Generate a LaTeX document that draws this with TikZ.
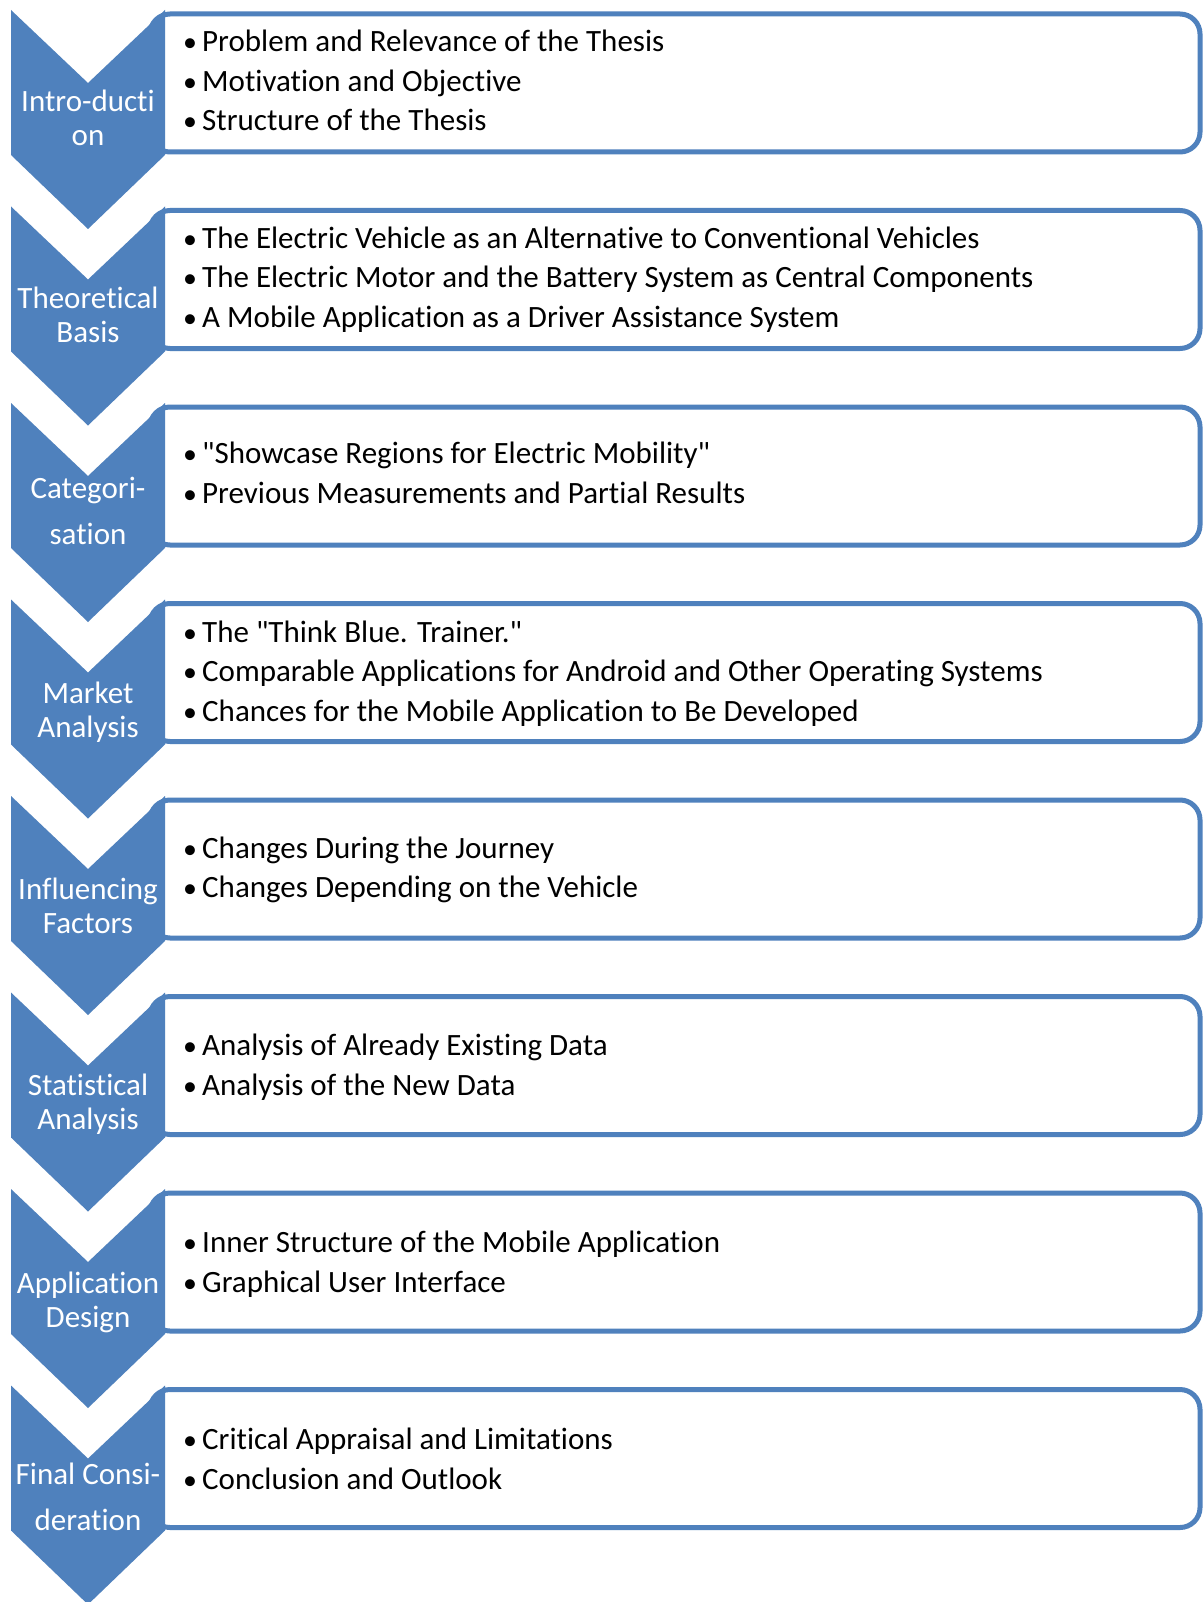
\documentclass[tikz,border=0pt]{standalone}
\usepackage{fontspec}
\setmainfont{Carlito}[Ligatures={TeXOff,CommonOff}]
\definecolor{accblue}{RGB}{79,129,189}
\newcommand\bul[1]{\makebox[18pt][l]{\hspace{-1pt}\scalebox{0.9}{\textbullet}}#1}
\begin{document}
\begin{tikzpicture}[x=1pt,y=-1pt,
  chev/.style={fill=accblue, draw=none},
  tbox/.style={draw=accblue, line width=5pt, rounded corners=20pt, fill=white},
  lbl/.style={text=white, font=\fontsize{31}{34}\selectfont, align=center, inner sep=0pt},
  lblwide/.style={lbl, font=\fontsize{31}{46}\selectfont},
  items/.style={anchor=west, align=left, font=\fontsize{31}{39.5}\selectfont, inner sep=0pt}]
\useasboundingbox (0,0) rectangle (1203,1602);
\fill[white] (0,0) rectangle (1203,1602);
\foreach \i in {0,...,7} {
  \pgfmathsetmacro\t{10+196.5*\i}
  \draw[tbox] (150,\t+4) rectangle (1200,\t+142);
  \fill[chev] (11,\t) -- (88,\t+73) -- (165,\t) -- (165,\t+145) -- (88,\t+219) -- (11,\t+145) -- cycle;
}
\node[lbl] (c1) at (88,118) {Intro-ducti\\on};
\node[lbl] (c2) at (88,314.5) {Theoretical\\Basis};
\node[lblwide] (c3) at (88,511) {Categori-\\sation};
\node[lbl] (c4) at (88,712) {Market\\Analysis};
\node[lbl] (c5) at (88,906) {Influencing\\Factors};
\node[lbl] (c6) at (88,1104.5) {Statistical\\Analysis};
\node[lbl] (c7) at (88,1302) {Application\\Design};
\node[lblwide] (c8) at (88,1497) {Final Consi-\\deration};

\node[items] (t1) at (184,80.5) {\bul{Problem and Relevance of the Thesis}\\\bul{Motivation and Objective}\\\bul{Structure of the Thesis}};
\node[items] (t2) at (184,279.5) {\bul{The Electric Vehicle as an Alternative to Conventional Vehicles}\\\bul{The Electric Motor and the Battery System as Central Components}\\\bul{A Mobile Application as a Driver Assistance System}};
\node[items] (t3) at (184,473) {\bul{"Showcase Regions for Electric Mobility"}\\\bul{Previous Measurements and Partial Results}};
\node[items] (t4) at (184,673.5) {\bul{The "Think Blue. Trainer."}\\\bul{Comparable Applications for Android and Other Operating Systems}\\\bul{Chances for the Mobile Application to Be Developed}};
\node[items] (t5) at (184,870) {\bul{Changes During the Journey}\\\bul{Changes Depending on the Vehicle}};
\node[items] (t6) at (184,1067) {\bul{Analysis of Already Existing Data}\\\bul{Analysis of the New Data}};
\node[items] (t7) at (184,1264) {\bul{Inner Structure of the Mobile Application}\\\bul{Graphical User Interface}};
\node[items] (t8) at (184,1459) {\bul{Critical Appraisal and Limitations}\\\bul{Conclusion and Outlook}};
\end{tikzpicture}
\end{document}
